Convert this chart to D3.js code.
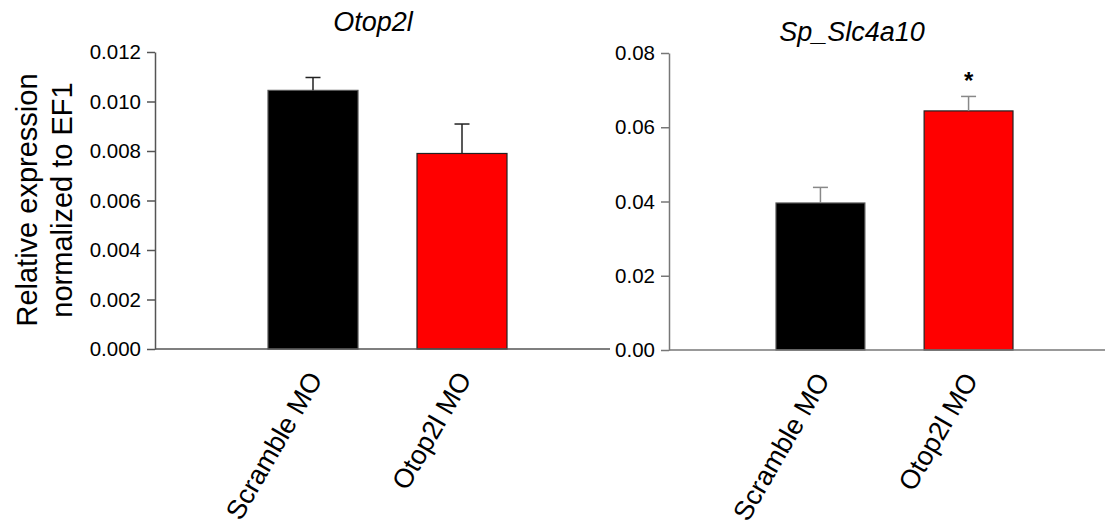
<!DOCTYPE html>
<html>
<head>
<meta charset="utf-8">
<script src="https://cdn.jsdelivr.net/npm/d3@7"></script>
<style>
  html, body { margin: 0; padding: 0; background: #fff; }
  svg { display: block; font-family: "Liberation Sans", Arial, sans-serif; }
</style>
</head>
<body>
<svg id="chart" width="1107" height="526"></svg>
<script>
// ---- data ----
const categories = ["Scramble MO", "Otop2l MO"];
const barColors = ["#000000", "#ff0000"];

const otopTitle = "Otop2l";
const otopMeans = [0.01045, 0.00790];
const otopSEM   = [0.00052, 0.00119];
const otopTicks = [0, 0.002, 0.004, 0.006, 0.008, 0.010, 0.012];
const otopSig   = ["", ""];

const slcTitle = "Sp_Slc4a10";
const slcMeans = [0.0396, 0.0644];
const slcSEM   = [0.0042, 0.0039];
const slcTicks = [0, 0.02, 0.04, 0.06, 0.08];
const slcSig   = ["", "*"];

const yLabelLines = ["Relative expression", "normalized to EF1"];

// ---- drawing ----
const svg = d3.select("#chart");

function panel(opts) {
  const g = svg.append("g");
  const y = d3.scaleLinear().domain([0, opts.yMax]).range([opts.bottom, opts.top]);
  const x = d3.scaleBand().domain(categories)
    .range([opts.left + opts.barStart, opts.left + opts.barEnd])
    .paddingInner(opts.padInner).paddingOuter(0);

  // bars
  g.selectAll("rect.bar").data(opts.means).enter().append("rect")
    .attr("class", "bar")
    .attr("x", (d, i) => x(categories[i]))
    .attr("width", x.bandwidth())
    .attr("y", d => y(d))
    .attr("height", d => y(0) - y(d))
    .attr("fill", (d, i) => barColors[i])
    .attr("stroke", (d, i) => i === 0 ? "#555" : "#222")
    .attr("stroke-width", 1.2);

  // error bars (upper)
  const capW = 15;
  opts.means.forEach((m, i) => {
    const cx = x(categories[i]) + x.bandwidth() / 2;
    g.append("line")
      .attr("x1", cx).attr("x2", cx)
      .attr("y1", y(m)).attr("y2", y(m + opts.sem[i]))
      .attr("stroke", opts.errColor).attr("stroke-width", 1.5);
    g.append("line")
      .attr("x1", cx - capW / 2).attr("x2", cx + capW / 2)
      .attr("y1", y(m + opts.sem[i])).attr("y2", y(m + opts.sem[i]))
      .attr("stroke", opts.errColor).attr("stroke-width", 1.5);
    if (opts.sig[i]) {
      g.append("text")
        .attr("x", cx).attr("y", y(m + opts.sem[i]) - 7)
        .attr("text-anchor", "middle")
        .attr("font-size", 24)
        .attr("font-weight", "bold")
        .attr("fill", "#000")
        .text(opts.sig[i]);
    }
  });

  // y axis
  const yAxis = d3.axisLeft(y).tickValues(opts.ticks)
    .tickFormat(d3.format(opts.fmt)).tickSize(8).tickSizeOuter(0).tickPadding(6);
  const ya = g.append("g").attr("transform", `translate(${opts.left},0)`).call(yAxis);
  ya.select(".domain").attr("stroke", opts.axisColor).attr("stroke-width", 1.5);
  ya.selectAll(".tick line").attr("stroke", opts.axisColor).attr("stroke-width", 1.5);
  ya.selectAll(".tick text").attr("font-size", 20.5).attr("fill", "#000")
    .attr("font-family", "Liberation Sans, Arial, sans-serif");

  // x axis line
  g.append("line")
    .attr("x1", opts.left).attr("x2", opts.right)
    .attr("y1", y(0)).attr("y2", y(0))
    .attr("stroke", opts.axisColor).attr("stroke-width", 1.5);

  // category labels
  categories.forEach((c, i) => {
    const cx = x(c) + x.bandwidth() / 2;
    g.append("text")
      .attr("transform", `translate(${cx + 2},${y(0) + 25}) rotate(-60)`)
      .attr("text-anchor", "end")
      .attr("dy", "0.35em")
      .attr("font-size", 27)
      .attr("fill", "#000")
      .text(c);
  });

  // title
  g.append("text")
    .attr("x", opts.titleX).attr("y", opts.titleY)
    .attr("text-anchor", "middle")
    .attr("font-size", 27)
    .attr("font-style", "italic")
    .attr("fill", "#000")
    .text(opts.title);
}

panel({
  left: 155, right: 610, top: 52, bottom: 349,
  barStart: 113, barEnd: 352, padInner: 0.396,
  yMax: 0.012, ticks: otopTicks, fmt: ".3f",
  means: otopMeans, sem: otopSEM, sig: otopSig,
  errColor: "#222", axisColor: "#555",
  title: otopTitle, titleX: 373, titleY: 31
});

panel({
  left: 669, right: 1105, top: 53, bottom: 350,
  barStart: 107, barEnd: 344, padInner: 0.4,
  yMax: 0.08, ticks: slcTicks, fmt: ".2f",
  means: slcMeans, sem: slcSEM, sig: slcSig,
  errColor: "#888", axisColor: "#777",
  title: slcTitle, titleX: 852, titleY: 41
});

// y-axis label
const yl = svg.append("text")
  .attr("transform", "translate(44,200) rotate(-90)")
  .attr("text-anchor", "middle")
  .attr("font-size", 29)
  .attr("fill", "#000");
yl.selectAll("tspan").data(yLabelLines).enter().append("tspan")
  .attr("x", 0)
  .attr("dy", (d, i) => i === 0 ? "-0.25em" : "1.2em")
  .text(d => d);
</script>
</body>
</html>
